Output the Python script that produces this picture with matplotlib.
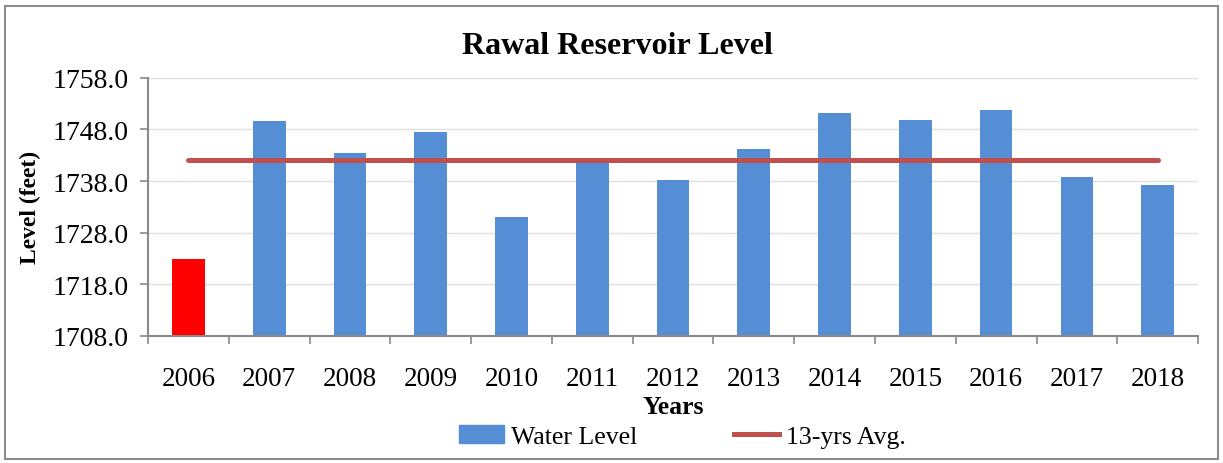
import matplotlib; matplotlib.use("Agg")
import matplotlib.pyplot as plt
from matplotlib.patches import Rectangle, Patch
from matplotlib.lines import Line2D
import numpy as np

# values
years = ["2006", "2007", "2008", "2009", "2010", "2011", "2012",
         "2013", "2014", "2015", "2016", "2017", "2018"]
water_level = [1722.9, 1749.6, 1743.4, 1747.5, 1731.0, 1742.3, 1738.2,
               1744.2, 1751.2, 1749.8, 1751.8, 1738.8, 1737.2]
avg_13yrs = [1742.0] * 13
yticks = [1708.0, 1718.0, 1728.0, 1738.0, 1748.0, 1758.0]

plt.rcParams["font.family"] = ["Liberation Serif", "DejaVu Serif"]
BLUE = "#558ED5"; RED = "#FF0000"; LINE = "#C0504D"; GREY = "#898989"

fig = plt.figure(figsize=(12.23, 4.64), dpi=100)
ax = fig.add_axes([0.121, 0.274, 0.8586, 0.556])

x = np.arange(len(years))
colors = [RED] + [BLUE] * (len(years) - 1)
ax.bar(x, np.array(water_level) - yticks[0], bottom=yticks[0], width=0.405,
       color=colors, zorder=2)
ax.plot(x, avg_13yrs, color=LINE, lw=3.6, solid_capstyle="round", zorder=3)

ax.set_xlim(-0.5, len(years) - 0.5)
ax.set_ylim(yticks[0], yticks[-1])
ax.set_yticks(yticks)
ax.set_yticklabels([f"{v:.1f}" for v in yticks], fontsize=20)
ax.set_xticks(x)
ax.set_xticklabels(years, fontsize=19.5)
ax.set_xticks(np.arange(-0.5, len(years)), minor=True)
ax.tick_params(axis="x", which="major", length=0, pad=21.5)
ax.tick_params(axis="x", which="minor", length=6, color=GREY, width=1.2)
ax.tick_params(axis="y", length=6, color=GREY, width=1.2, pad=8)
ax.grid(axis="y", color="#e0e0e0", lw=1, zorder=0)
ax.set_axisbelow(True)
for s in ("top", "right"):
    ax.spines[s].set_visible(False)
for s in ("left", "bottom"):
    ax.spines[s].set_color(GREY); ax.spines[s].set_linewidth(1.5)

ax.set_ylabel("Level (feet)", fontsize=17, fontweight="bold", labelpad=8)
ax.set_xlabel("Years", fontsize=18.5, fontweight="bold", labelpad=3)
fig.text(0.505, 0.90, "Rawal Reservoir Level", ha="center", va="center",
         fontsize=23, fontweight="bold")

handles = [Patch(color=BLUE, label="Water Level"),
           Line2D([0], [0], color=LINE, lw=3.6, label="13-yrs Avg.")]
fig.legend(handles=handles, loc="center", bbox_to_anchor=(0.558, 0.058), ncol=2,
           frameon=False, fontsize=18.5, handlelength=1.75, handletextpad=0.27,
           columnspacing=3.8, borderpad=0.1)

fig.patches.append(Rectangle((0.004, 0.008), 0.992, 0.977, transform=fig.transFigure,
                             fill=False, edgecolor="#8c8c8c", lw=1.5))
fig.savefig("out.png", dpi=100)
